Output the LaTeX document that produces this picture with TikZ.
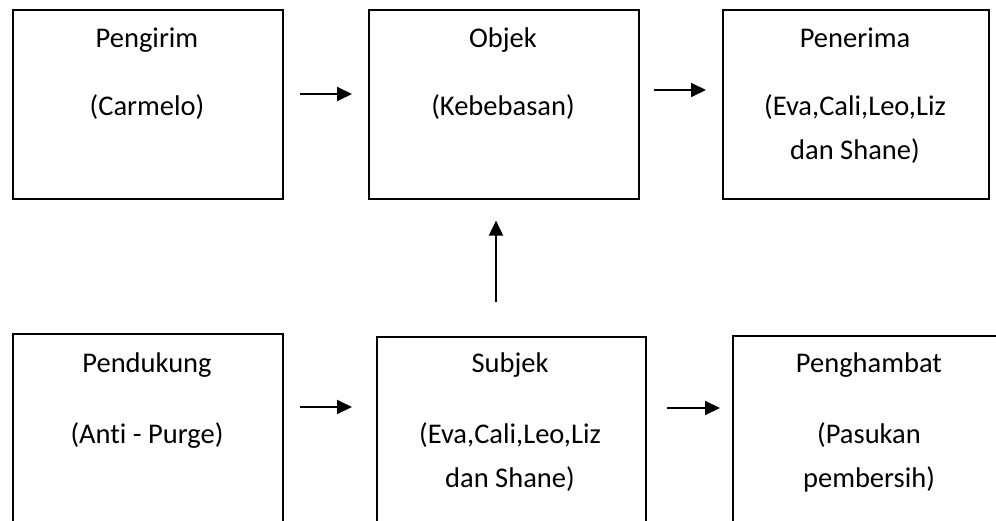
\documentclass[tikz,border=0pt]{standalone}
\usepackage{fontspec}
\setmainfont{Carlito}[Ligatures=NoCommon]
\usetikzlibrary{arrows.meta}
\begin{document}
\begin{tikzpicture}[x=1pt,y=1pt,
  boxnode/.style={draw=black,line width=1.6pt,inner sep=0pt,anchor=north west},
  txt/.style={anchor=base,inner sep=0pt,font=\fontsize{28.5}{32}\selectfont},
  arr/.style={line width=1.9pt,-{Triangle[length=15pt,width=14pt]}}]
\useasboundingbox (0,0) rectangle (996,-521);
\clip (0,0) rectangle (996,-521);
\fill[white] (0,0) rectangle (996,-521);

% top row
\node[boxnode,minimum width=270pt,minimum height=189pt] (pengirim) at (12,-9) {};
\node[boxnode,minimum width=270pt,minimum height=189pt] (objek) at (368,-9) {};
\node[boxnode,minimum width=266pt,minimum height=189pt] (penerima) at (722,-9) {};

% bottom row (runs past the lower edge)
\node[boxnode,minimum width=270pt,minimum height=220pt] (pendukung) at (12,-333) {};
\node[boxnode,minimum width=269pt,minimum height=220pt] (subjek) at (376,-336) {};
\node[boxnode,minimum width=290pt,minimum height=220pt] (penghambat) at (732,-335) {};

% labels
\node[txt] (pengirimA) at (147,-48) {Pengirim};
\node[txt] (pengirimB) at (147,-116) {(Carmelo)};
\node[txt] (objekA) at (503,-48) {Objek};
\node[txt] (objekB) at (503,-116) {(Kebebasan)};
\node[txt] (penerimaA) at (855,-48) {Penerima};
\node[txt] (penerimaB) at (855,-116) {(Eva,Cali,Leo,Liz};
\node[txt] (penerimaC) at (855,-160) {dan Shane)};

\node[txt] (pendukungA) at (147,-372) {Pendukung};
\node[txt] (pendukungB) at (147,-443) {(Anti - Purge)};
\node[txt] (subjekA) at (510,-372) {Subjek};
\node[txt] (subjekB) at (510,-443) {(Eva,Cali,Leo,Liz};
\node[txt] (subjekC) at (510,-487) {dan Shane)};
\node[txt] (penghambatA) at (869,-372) {Penghambat};
\node[txt] (penghambatB) at (869,-443) {(Pasukan};
\node[txt] (penghambatC) at (869,-487) {pembersih)};

% connectors
\draw[arr] ([shift={(16,-85)}]pengirim.north east) -- ([shift={(-16,-85)}]objek.north west);
\draw[arr] ([shift={(14,-81)}]objek.north east) -- ([shift={(-16,-81)}]penerima.north west);
\draw[arr] ([shift={(120,34)}]subjek.north west) -- ([shift={(128,-21)}]objek.south west);
\draw[arr] ([shift={(16,-74)}]pendukung.north east) -- ([shift={(-24,-71)}]subjek.north west);
\draw[arr] ([shift={(20,-72)}]subjek.north east) -- ([shift={(-12,-73)}]penghambat.north west);
\end{tikzpicture}
\end{document}
